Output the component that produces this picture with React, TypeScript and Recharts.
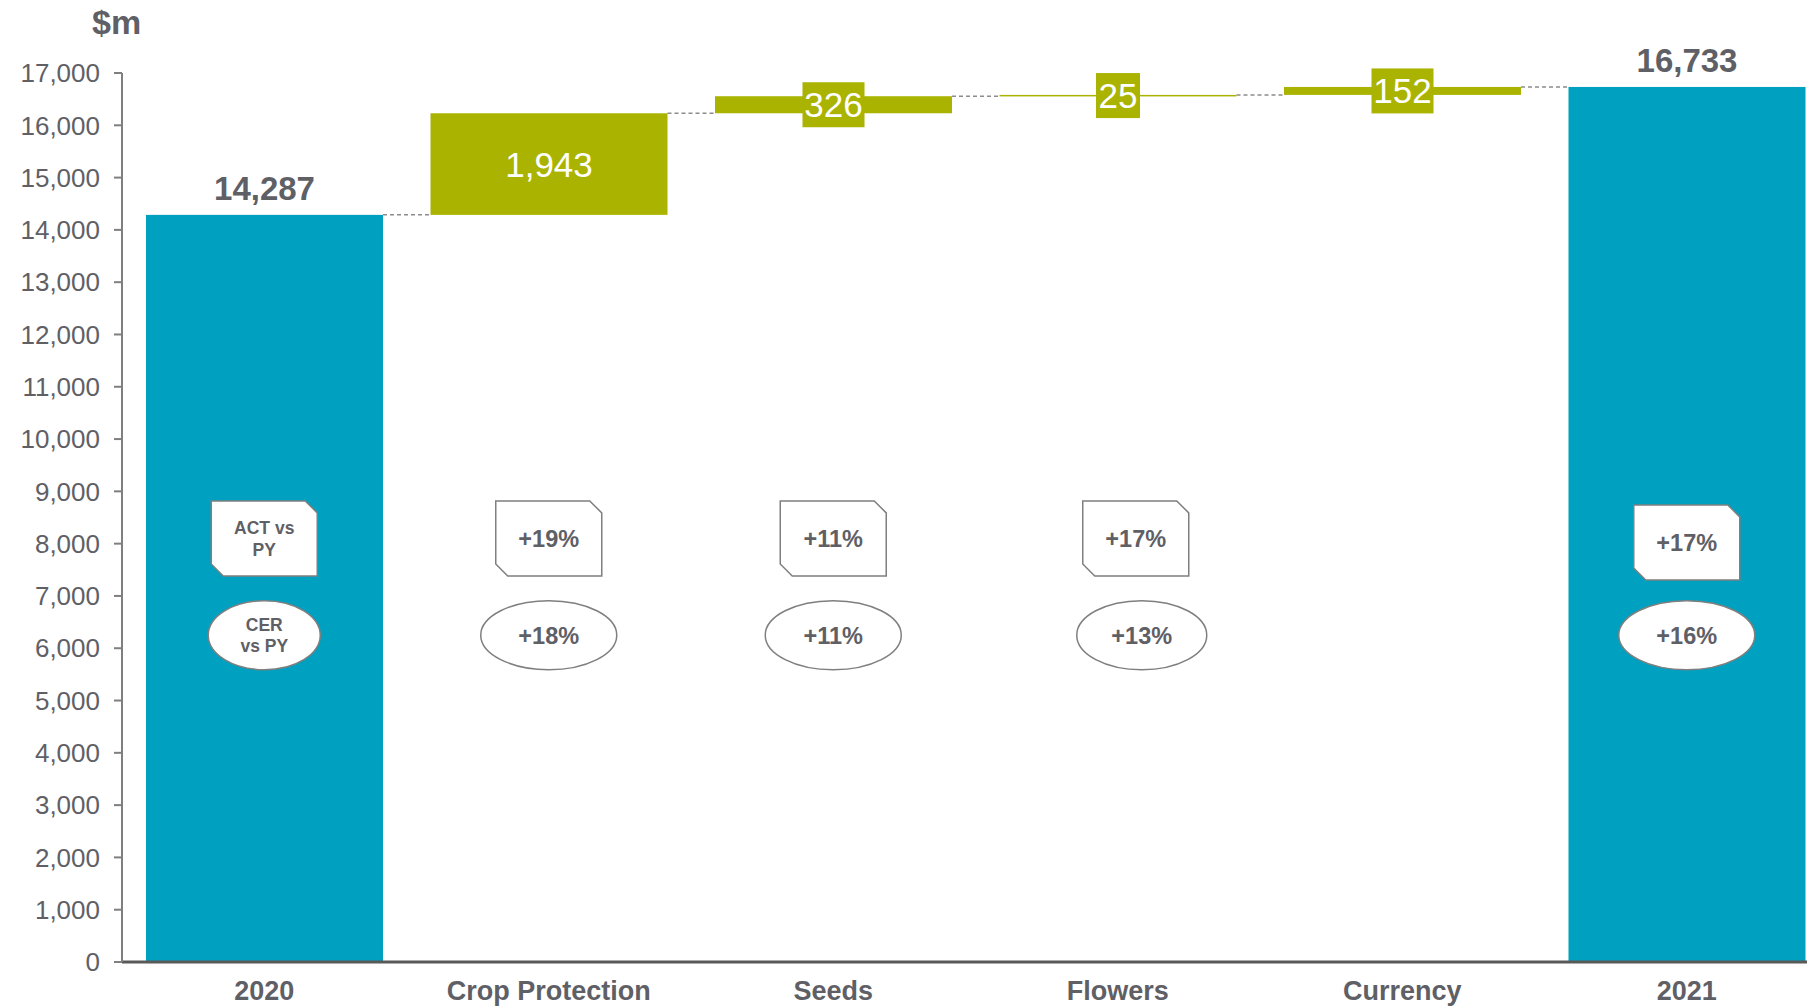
import React from "react";
import {
  ComposedChart, Bar, Scatter, XAxis, YAxis, LabelList,
} from "recharts";

const categories = ["2020", "Crop Protection", "Seeds", "Flowers", "Currency", "2021"];
const amounts = [14287, 1943, 326, 25, 152, 16733];
const kinds = ["total", "delta", "delta", "delta", "delta", "total"];
const actVsPy = ["ACT vs\nPY", "+19%", "+11%", "+17%", "", "+17%"];
const cerVsPy = ["CER\nvs PY", "+18%", "+11%", "+13%", "", "+16%"];
const yTicks = [0, 1000, 2000, 3000, 4000, 5000, 6000, 7000, 8000, 9000, 10000,
  11000, 12000, 13000, 14000, 15000, 16000, 17000];

const TEAL = "#00A1C0";
const GREEN = "#AAB400";
const GREY = "#5F6066";
const FONT = "'Liberation Sans', Arial, sans-serif";

const CHART_W = 1829;
const CHART_H = 1006;
const Y_AXIS_W = 122;
const BAR_SIZE = 237;
const GAP = (CHART_W - Y_AXIS_W) / categories.length - BAR_SIZE;

// small nudges so the callouts sit where the original slide had them
const SHIFT: Record<string, { dx: number; dy: number; cdx: number; rx?: number }> = {
  Flowers: { dx: 18, dy: 0, cdx: 24, rx: 65 },
  "2021": { dx: 0, dy: 4, cdx: 0 },
};

// waterfall: deltas sit on the running total, totals start at zero
let running = 0;
const data = categories.map((name, i) => {
  const kind = kinds[i];
  const base = kind === "total" ? 0 : running;
  running = kind === "total" ? amounts[i] : running + amounts[i];
  return { name, base, value: amounts[i], kind, act: actVsPy[i], cer: cerVsPy[i] };
});

const fmt = (v: number) => v.toLocaleString("en-US");

const ValueBar = (props: any) => {
  const { x, y, width, height, index } = props;
  const fill = data[index].kind === "total" ? TEAL : GREEN;
  return (
    <g>
      <rect x={x} y={y} width={width} height={Math.max(height, 1.5)} fill={fill} />
      {index < data.length - 1 && (
        <line x1={x + width} x2={x + width + GAP} y1={y} y2={y}
          stroke="#8C8C8C" strokeWidth={1.5} strokeDasharray="4 3" />
      )}
    </g>
  );
};

const ValueLabel = (props: any) => {
  const { x, y, width, height, index } = props;
  const row = data[index];
  const cx = x + width / 2;
  if (row.kind === "total") {
    return (
      <text x={cx} y={y - 15} textAnchor="middle" fill={GREY}
        fontFamily={FONT} fontWeight="bold" fontSize={33}>
        {fmt(row.value)}
      </text>
    );
  }
  const label = fmt(row.value);
  const w = label.length * 18 + 8;
  const cy = y + height / 2;
  return (
    <g>
      <rect x={cx - w / 2} y={cy - 22.5} width={w} height={45} fill={GREEN} />
      <text x={cx} y={cy + 12.5} textAnchor="middle" fill="#fff"
        fontFamily={FONT} fontSize={35}>
        {label}
      </text>
    </g>
  );
};

const lines = (s: string, cx: number, cy: number, size: number) => {
  const parts = s.split("\n");
  const lh = size * 1.25;
  const start = cy - ((parts.length - 1) * lh) / 2 + size * 0.36;
  return (
    <text textAnchor="middle" fill={GREY} fontFamily={FONT} fontWeight="bold" fontSize={size}>
      {parts.map((p, i) => (
        <tspan key={i} x={cx} y={start + i * lh}>{p}</tspan>
      ))}
    </text>
  );
};

const ActCallout = (props: any) => {
  const { payload } = props;
  if (!payload || !payload.act) return <g />;
  const sh = SHIFT[payload.name];
  const cx = props.cx + (sh ? sh.dx : 0);
  const cy = props.cy + (sh ? sh.dy : 0);
  const w = 106, h = 75, s = 12;
  const x0 = cx - w / 2, x1 = cx + w / 2, y0 = cy - h / 2, y1 = cy + h / 2;
  const pts = `${x0},${y0} ${x1 - s},${y0} ${x1},${y0 + s} ${x1},${y1} ${x0 + s},${y1} ${x0},${y1 - s}`;
  const multi = payload.act.includes("\n");
  return (
    <g>
      <polygon points={pts} fill="#fff" stroke="#7F7F7F" strokeWidth={1.5} />
      {lines(payload.act, cx, cy, multi ? 17.5 : 23.5)}
    </g>
  );
};

const CerCallout = (props: any) => {
  const { payload } = props;
  if (!payload || !payload.cer) return <g />;
  const sh = SHIFT[payload.name];
  const cx = props.cx + (sh ? sh.cdx : 0);
  const cy = props.cy;
  const multi = payload.cer.includes("\n");
  const rx = sh && sh.rx ? sh.rx : multi ? 56 : 68;
  return (
    <g>
      <ellipse cx={cx} cy={cy} rx={rx} ry={34.5}
        fill="#fff" stroke="#7F7F7F" strokeWidth={1.5} />
      {lines(payload.cer, cx, cy, multi ? 17.5 : 23.5)}
    </g>
  );
};

export default function App() {
  return (
    <div style={{
      position: "fixed", left: 0, top: 0, width: 1807, height: 1006,
      overflow: "hidden", background: "#fff",
    }}>
      <div style={{
        position: "absolute", left: 92, top: 3, fontFamily: FONT,
        fontWeight: "bold", fontSize: 34, color: GREY,
      }}>
        $m
      </div>
      <ComposedChart width={CHART_W} height={CHART_H} data={data}
        margin={{ top: 73, right: 0, bottom: 0, left: 0 }}>
        <XAxis dataKey="name" height={44} tickLine={false} tickSize={0} tickMargin={19}
          axisLine={{ stroke: "#595959", strokeWidth: 3 }} interval={0}
          tick={{ fill: GREY, fontSize: 27, fontWeight: "bold", fontFamily: FONT }} />
        <YAxis width={Y_AXIS_W} domain={[0, 17000]} ticks={yTicks} interval={0}
          tickFormatter={fmt} tickSize={8} tickMargin={14}
          axisLine={{ stroke: "#7F7F7F", strokeWidth: 2 }}
          tickLine={{ stroke: "#7F7F7F", strokeWidth: 2 }}
          tick={{ fill: GREY, fontSize: 26, fontFamily: FONT }} />
        <Bar dataKey="base" stackId="w" fill="transparent" barSize={BAR_SIZE}
          isAnimationActive={false} />
        <Bar dataKey="value" stackId="w" barSize={BAR_SIZE} shape={ValueBar}
          isAnimationActive={false}>
          <LabelList dataKey="value" content={ValueLabel} />
        </Bar>
        <Scatter dataKey={() => 8100} shape={ActCallout} isAnimationActive={false} />
        <Scatter dataKey={() => 6250} shape={CerCallout} isAnimationActive={false} />
      </ComposedChart>
    </div>
  );
}
